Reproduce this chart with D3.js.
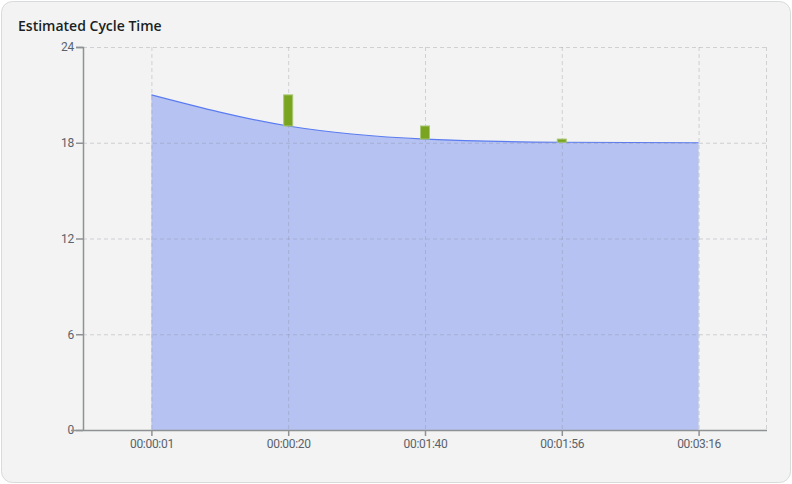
<!DOCTYPE html>
<html>
<head>
<meta charset="utf-8">
<script src="https://cdn.jsdelivr.net/npm/d3@7"></script>
<style>
  html, body { margin: 0; padding: 0; background: #ffffff; }
  svg { display: block; }
  .tick text { font-family: Roboto, "Noto Sans", sans-serif; font-size: 12px; fill: #5b626c; letter-spacing: -0.3px; }
</style>
</head>
<body>
<div id="chart"></div>
<script>
// chart data
const categories = ['00:00:01', '00:00:20', '00:01:40', '00:01:56', '00:03:16'];
const estimate = [21.0, 19.05, 18.23, 18.03, 18.0];
const barCategories = ['00:00:20', '00:01:40', '00:01:56'];
const barHigh = [21.0, 19.05, 18.23];
const barLow = [19.05, 18.23, 18.03];
const yTicks = [0, 6, 12, 18, 24];

const W = 792, H = 484;
const margin = { top: 47, right: 25, bottom: 54, left: 83 };
const innerW = W - margin.left - margin.right;
const innerH = H - margin.top - margin.bottom;

const svg = d3.select('#chart').append('svg')
  .attr('width', W)
  .attr('height', H);

// card background
svg.append('rect')
  .attr('x', 1.5).attr('y', 1.5)
  .attr('width', W - 3).attr('height', H - 3)
  .attr('rx', 11)
  .style('fill', '#f2f3f2')
  .style('stroke', '#d8dbdb');

svg.append('text')
  .attr('x', 18).attr('y', 31)
  .style('font-family', '"Open Sans", "Noto Sans", sans-serif')
  .style('font-size', '14px')
  .style('font-weight', 600)
  .style('fill', '#1b1f24')
  .text('Estimated Cycle Time');

const chart = svg.append('g')
  .attr('transform', `translate(${margin.left},${margin.top})`);

const x = d3.scalePoint().domain(categories).range([0, innerW]).padding(0.5);
const y = d3.scaleLinear().domain([0, 24]).range([innerH, 0]);

const rows = categories.map((c, i) => ({ c, v: estimate[i] }));

// area
const area = d3.area()
  .x(d => x(d.c))
  .y0(y(0))
  .y1(d => y(d.v))
  .curve(d3.curveMonotoneX);

const line = d3.line()
  .x(d => x(d.c))
  .y(d => y(d.v))
  .curve(d3.curveMonotoneX);

chart.append('path')
  .datum(rows)
  .attr('d', area)
  .style('fill', '#b6c3f2');

chart.append('path')
  .datum(rows)
  .attr('d', line)
  .style('fill', 'none')
  .style('stroke', '#5b7cf1')
  .style('stroke-width', 1.2);

// grid on top
const grid = chart.append('g').attr('class', 'grid')
  .style('stroke', 'rgba(130,130,140,0.3)')
  .style('stroke-dasharray', '4,3')
  .style('stroke-width', 1);

grid.selectAll('.hline')
  .data(yTicks.filter(t => t > 0))
  .enter().append('line')
  .attr('x1', 0).attr('x2', innerW)
  .attr('y1', d => y(d) + 0.5).attr('y2', d => y(d) + 0.5);

grid.selectAll('.vline')
  .data(categories)
  .enter().append('line')
  .attr('x1', d => x(d) + 0.5).attr('x2', d => x(d) + 0.5)
  .attr('y1', 0).attr('y2', innerH);

grid.append('line')
  .attr('x1', innerW - 0.5).attr('x2', innerW - 0.5)
  .attr('y1', 0).attr('y2', innerH);

// bars
const bars = barCategories.map((c, i) => ({ c, hi: barHigh[i], lo: barLow[i] }));
chart.selectAll('.bar')
  .data(bars)
  .enter().append('rect')
  .attr('class', 'bar')
  .attr('x', d => x(d.c) - 4.5)
  .attr('width', 9)
  .attr('y', d => y(d.hi))
  .attr('height', d => y(d.lo) - y(d.hi))
  .style('fill', '#78a41f')
  .style('stroke', '#a9c774')
  .style('stroke-width', 1);

// axes
const yAxis = chart.append('g')
  .call(d3.axisLeft(y).tickValues(yTicks).tickSize(7).tickPadding(2));

const xAxis = chart.append('g')
  .attr('transform', `translate(0,${innerH})`)
  .call(d3.axisBottom(x).tickSize(6).tickPadding(3).tickSizeOuter(0));

[yAxis, xAxis].forEach(a => {
  a.select('.domain').style('stroke', '#8f9294').style('stroke-width', 1.5);
  a.selectAll('.tick line').style('stroke', '#8f9294').style('stroke-width', 1.5);
});
yAxis.select('.domain').attr('d', `M-7,0.5H0.5V${innerH}`);
xAxis.select('.domain').attr('d', `M-12,0.5H${innerW}`);
</script>
</body>
</html>
